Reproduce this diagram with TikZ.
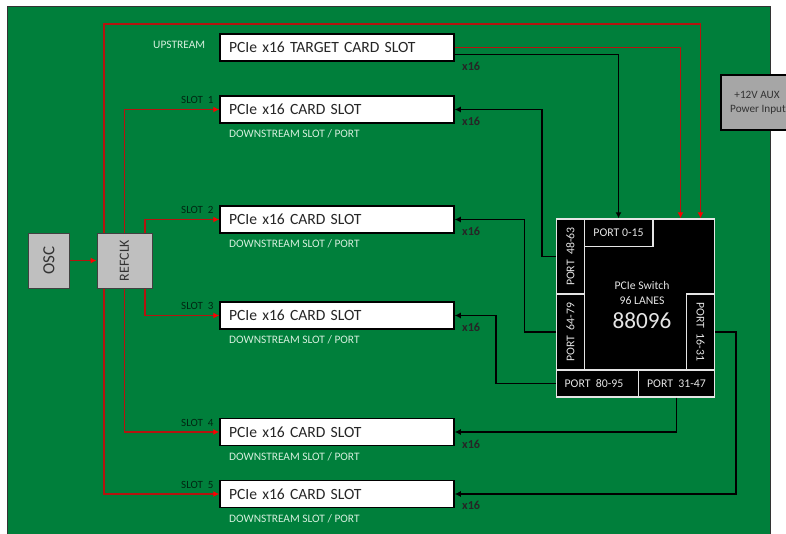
\documentclass[tikz,border=0pt]{standalone}
\usepackage{fontspec}
\setmainfont{Carlito}
\newfontfamily\slotfont[WordSpace=0.5]{Carlito}
\usetikzlibrary{arrows.meta,calc}
\definecolor{board}{HTML}{007F3B}
\definecolor{lbl}{HTML}{D5EFDD}
\definecolor{redline}{HTML}{B4140F}
\tikzset{
  slotbox/.style={draw=black,line width=1.5pt,fill=white,minimum width=234pt,minimum height=27pt,text width=216pt,inner xsep=9pt,inner ysep=0pt,align=left,font=\slotfont\fontsize{15.6}{18}\selectfont,text=black!85},
  clockbox/.style={draw=black!75,line width=1pt,fill=black!25,minimum height=55pt,inner sep=0pt,text=black!80},
  portbox/.style={draw=white!90!black,line width=1.4pt,fill=black,text=white!90!black,inner sep=0pt,font=\fontsize{11.8}{13}\selectfont},
  updn/.style={text=lbl,inner sep=0pt,font=\fontsize{11.4}{13}\selectfont},
  slotname/.style={text=black!70!board,inner sep=0pt,font=\fontsize{11}{13}\selectfont},
  widthlbl/.style={text=black!85,inner sep=0pt,font=\bfseries\fontsize{12.2}{14}\selectfont},
  clk/.style={draw=redline,line width=1.2pt,-{Latex[length=6pt,width=6pt,color=red,fill=red]}},
  dat/.style={draw=black,line width=1.4pt,-{Latex[length=6pt,width=6pt]}}
}
\begin{document}
\begin{tikzpicture}[x=1pt,y=-1pt]
\clip (0,0) rectangle (786,533);
\path[fill=white] (0,0) rectangle (786,533);
\path[fill=board,draw=black!80,line width=0.8pt] (7.5,6) rectangle (770,540);
% power
\node[draw=black,line width=1.6pt,fill=black!35,minimum width=72pt,minimum height=55pt,inner sep=0pt,align=center,text=black!80,font=\fontsize{11.2}{14}\selectfont] (pwr) at (757,102.5) {+12V AUX\\\hspace*{2pt}Power Input};
% slots
\node[slotbox] (t0) at (337,47.5) {PCIe x16 TARGET CARD SLOT};
\node[slotbox] (s1) at (337,109.5) {PCIe x16 CARD SLOT};
\node[slotbox] (s2) at (337,219.5) {PCIe x16 CARD SLOT};
\node[slotbox] (s3) at (337,315.5) {PCIe x16 CARD SLOT};
\node[slotbox] (s4) at (337,432) {PCIe x16 CARD SLOT};
\node[slotbox] (s5) at (337,494) {PCIe x16 CARD SLOT};
% clock
\node[clockbox,minimum width=40.5pt,font=\fontsize{17}{19}\selectfont] (osc) at (49,260.5) {\rotatebox{90}{OSC}};
\node[clockbox,minimum width=55pt,font=\fontsize{14}{16}\selectfont] (ref) at (124.5,260.5) {\rotatebox{90}{REFCLK}};
% switch
\node[portbox,minimum width=157.5pt,minimum height=178pt] (sw) at (635.5,308) {};
\node[portbox,minimum width=69pt,minimum height=27.5pt] (p015) at (618.5,232.75) {PORT 0-15};
\node[portbox,minimum width=27.5pt,minimum height=75pt] (p4863) at (570.5,256.5) {\rotatebox{90}{PORT\ \ 48-63}};
\node[portbox,minimum width=27.5pt,minimum height=76pt] (p6479) at (570.5,332) {\rotatebox{90}{PORT\ \ 64-79}};
\node[portbox,minimum width=27.5pt,minimum height=76pt] (p1631) at (700.5,332) {\rotatebox{-90}{PORT\ \ 16-31}};
\node[portbox,minimum width=81.5pt,minimum height=27pt] (p8095) at (597.5,383.5) {PORT\ \ 80-95\hspace*{7pt}};
\node[portbox,minimum width=75.5pt,minimum height=27pt] (p3147) at (676.5,383.5) {PORT\ \ 31-47};
\node[text=white!90!black,inner sep=0pt,align=center,font=\fontsize{11.7}{14.4}\selectfont] (swt) at (642,293) {PCIe Switch\\96 LANES};
\node[text=white!90!black,inner sep=0pt,font=\fontsize{23.2}{26}\selectfont] (swn) at (642,321) {88096};
% labels
\node[updn,anchor=west] (up) at (153,45) {UPSTREAM};
\node[slotname,anchor=west] (n1) at (181,100) {SLOT\ \ 1};
\node[slotname,anchor=west] (n2) at (181,210) {SLOT\ \ 2};
\node[slotname,anchor=west] (n3) at (181,306) {SLOT\ \ 3};
\node[slotname,anchor=west] (n4) at (181,422.5) {SLOT\ \ 4};
\node[slotname,anchor=west] (n5) at (181,484.5) {SLOT\ \ 5};
\node[updn,anchor=west] (d1) at (229,134) {DOWNSTREAM SLOT / PORT};
\node[updn,anchor=west] (d2) at (229,244) {DOWNSTREAM SLOT / PORT};
\node[updn,anchor=west] (d3) at (229,340) {DOWNSTREAM SLOT / PORT};
\node[updn,anchor=west] (d4) at (229,456.5) {DOWNSTREAM SLOT / PORT};
\node[updn,anchor=west] (d5) at (229,518.5) {DOWNSTREAM SLOT / PORT};
\node[widthlbl,anchor=west] (w0) at (462,66.5) {x16};
\node[widthlbl,anchor=west] (w1) at (462,121.5) {x16};
\node[widthlbl,anchor=west] (w2) at (462,231.5) {x16};
\node[widthlbl,anchor=west] (w3) at (462,327.5) {x16};
\node[widthlbl,anchor=west] (w4) at (462,444) {x16};
\node[widthlbl,anchor=west] (w5) at (462,505.5) {x16};
% route coordinates
\coordinate (topr) at (700.5,24);
\coordinate (r1) at (542,200);
\coordinate (r2) at (524.5,280);
\coordinate (r3) at (496,350);
\coordinate (r5) at (736,400);
% clock connectors
\draw[clk] (osc.east) -- (ref.west);
\draw[clk] ([xshift=-20.5pt]ref.north) |- (topr) -- ([xshift=65pt]sw.north);
\draw[clk] (ref.north) |- (s1.west);
\draw[clk] ([xshift=20.5pt]ref.north) |- (s2.west);
\draw[clk] ([xshift=20.5pt]ref.south) |- (s3.west);
\draw[clk] (ref.south) |- (s4.west);
\draw[clk] ([xshift=-20.5pt]ref.south) |- (s5.west);
\draw[clk] (t0.east) -| ([xshift=45pt]sw.north);
% data connectors
\draw[dat] ([yshift=-7pt]t0.east) -| (p015.north);
\draw[dat] (p4863.west) -| (r1) |- (s1.east);
\draw[dat] (p6479.west) -| (r2) |- (s2.east);
\draw[dat] (p8095.west) -| (r3) |- (s3.east);
\draw[dat] (p3147.south) |- (s4.east);
\draw[dat] (p1631.east) -| (r5) |- (s5.east);
\end{tikzpicture}
\end{document}
